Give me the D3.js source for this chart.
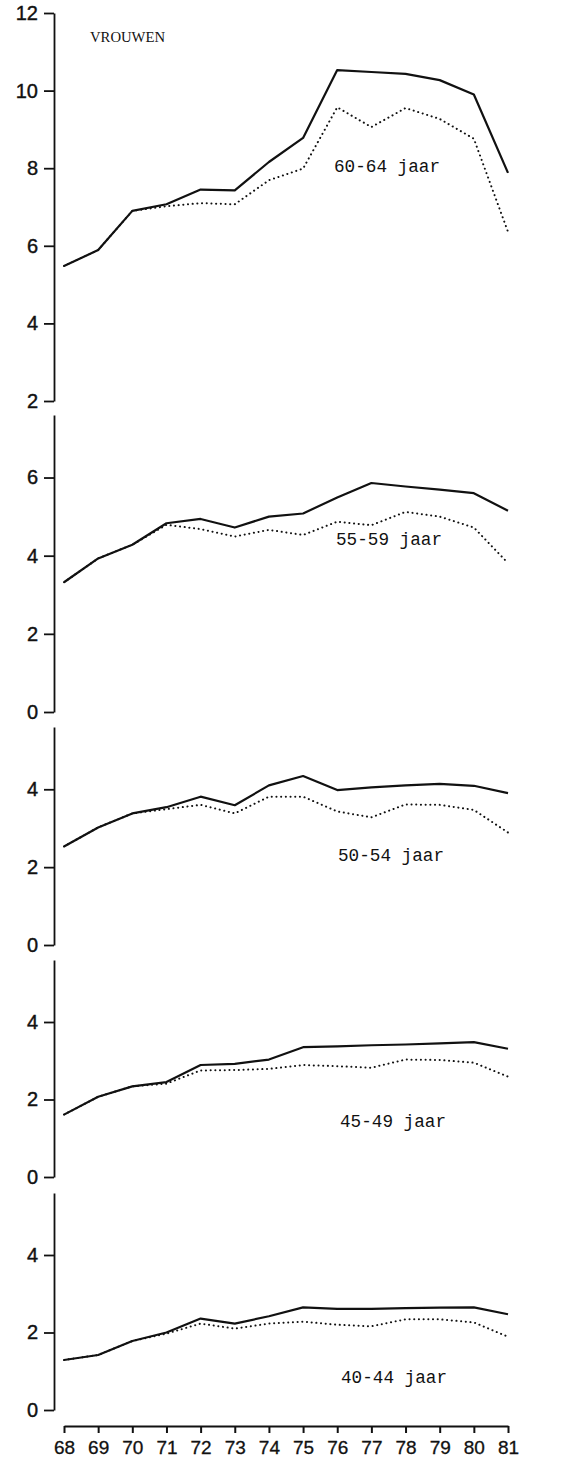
<!DOCTYPE html>
<html>
<head>
<meta charset="utf-8">
<script src="https://cdn.jsdelivr.net/npm/d3@7"></script>
<style>
  body { margin: 0; background: #fff; }
  svg { display: block; }
</style>
</head>
<body>
<svg id="chart"></svg>
<script>
const years = [68, 69, 70, 71, 72, 73, 74, 75, 76, 77, 78, 79, 80, 81];

// solid = upper curve, dotted = lower curve, per age group
const solid6064  = [5.48, 5.89, 6.90, 7.07, 7.45, 7.43, 8.16, 8.78, 10.53, 10.48, 10.43, 10.27, 9.90, 7.88];
const dotted6064 = [5.48, 5.89, 6.90, 7.02, 7.10, 7.07, 7.69, 7.99, 9.57, 9.06, 9.55, 9.27, 8.76, 6.36];
const solid5559  = [3.32, 3.93, 4.28, 4.83, 4.94, 4.72, 5.00, 5.08, 5.49, 5.86, 5.77, 5.69, 5.60, 5.15];
const dotted5559 = [3.32, 3.93, 4.28, 4.79, 4.68, 4.49, 4.66, 4.53, 4.87, 4.78, 5.12, 5.00, 4.72, 3.81];
const solid5054  = [2.53, 3.02, 3.38, 3.54, 3.81, 3.59, 4.10, 4.34, 3.98, 4.05, 4.10, 4.14, 4.09, 3.90];
const dotted5054 = [2.53, 3.02, 3.38, 3.49, 3.60, 3.38, 3.81, 3.81, 3.43, 3.28, 3.61, 3.60, 3.47, 2.89];
const solid4549  = [1.61, 2.07, 2.34, 2.45, 2.89, 2.92, 3.03, 3.35, 3.37, 3.40, 3.42, 3.45, 3.48, 3.31];
const dotted4549 = [1.61, 2.07, 2.34, 2.41, 2.75, 2.76, 2.79, 2.89, 2.86, 2.82, 3.03, 3.02, 2.95, 2.59];
const solid4044  = [1.29, 1.42, 1.78, 2.00, 2.36, 2.23, 2.42, 2.65, 2.61, 2.61, 2.63, 2.64, 2.65, 2.47];
const dotted4044 = [1.29, 1.42, 1.78, 1.97, 2.23, 2.10, 2.23, 2.28, 2.20, 2.16, 2.34, 2.34, 2.26, 1.89];

const groupLabels = ["60-64 jaar", "55-59 jaar", "50-54 jaar", "45-49 jaar", "40-44 jaar"];
const yTicks = [[2, 4, 6, 8, 10, 12], [0, 2, 4, 6], [0, 2, 4], [0, 2, 4], [0, 2, 4]];
const yDomains = [[2, 12], [0, 7.6], [0, 5.6], [0, 5.6], [0, 5.6]];

const width = 585, height = 1467;
const svg = d3.select("#chart").attr("width", width).attr("height", height);

const axisX = 54;
const x = d3.scaleLinear().domain([68, 81]).range([64, 508]);

// vertical pixel extent of each panel (bottom, top)
const panelRanges = [[401, 13], [712, 415], [945, 727], [1177, 960], [1410, 1193]];
const labelPos = [[334, 172], [336, 545], [338, 861], [340, 1127], [341, 1383]];

const panels = [
  { solid: solid6064, dotted: dotted6064 },
  { solid: solid5559, dotted: dotted5559 },
  { solid: solid5054, dotted: dotted5054 },
  { solid: solid4549, dotted: dotted4549 },
  { solid: solid4044, dotted: dotted4044 }
];

panels.forEach((p, i) => {
  const y = d3.scaleLinear().domain(yDomains[i]).range(panelRanges[i]);

  const ax = svg.append("g")
      .attr("transform", `translate(${axisX},0)`)
      .call(d3.axisLeft(y).tickValues(yTicks[i]).tickFormat(d3.format("d"))
        .tickSize(10).tickSizeOuter(0).tickPadding(6));
  ax.selectAll("path, line").attr("stroke", "#111").attr("stroke-width", 1.8);
  ax.selectAll("text")
      .attr("fill", "#111")
      .attr("stroke", "#111")
      .attr("stroke-width", 0.4)
      .style("font-family", "'Liberation Sans', Arial, sans-serif")
      .style("font-size", "20px");

  const line = d3.line().x((d, j) => x(years[j])).y(d => y(d));

  svg.append("path")
      .datum(p.dotted)
      .attr("d", line)
      .attr("fill", "none")
      .attr("stroke", "#111")
      .attr("stroke-width", 2)
      .attr("stroke-linecap", "round")
      .attr("stroke-dasharray", "0.1 4.6");

  svg.append("path")
      .datum(p.solid)
      .attr("d", line)
      .attr("fill", "none")
      .attr("stroke", "#111")
      .attr("stroke-width", 2.2)
      .attr("stroke-linejoin", "round");

  svg.append("text")
      .attr("x", labelPos[i][0])
      .attr("y", labelPos[i][1])
      .attr("textLength", 106)
      .attr("lengthAdjust", "spacingAndGlyphs")
      .style("font-family", "'Liberation Mono', 'DejaVu Sans Mono', monospace")
      .style("font-size", "18.5px")
      .attr("fill", "#111")
      .text(groupLabels[i]);
});

svg.append("text")
    .attr("x", 90)
    .attr("y", 42)
    .attr("textLength", 75)
    .attr("lengthAdjust", "spacingAndGlyphs")
    .style("font-family", "'Liberation Serif', 'Times New Roman', serif")
    .style("font-size", "15px")
    .attr("fill", "#111")
    .text("VROUWEN");

// shared year axis at the bottom
const xAx = svg.append("g")
    .attr("transform", "translate(0,1426)")
    .call(d3.axisBottom(x).tickValues(years).tickFormat(d3.format("d"))
      .tickSize(7).tickSizeOuter(0).tickPadding(8));
xAx.selectAll("path, line").attr("stroke", "#111").attr("stroke-width", 2);
xAx.selectAll("text")
    .attr("fill", "#111")
    .attr("stroke", "#111")
    .attr("stroke-width", 0.3)
    .style("font-family", "'Liberation Sans', Arial, sans-serif")
    .style("font-size", "19px");
</script>
</body>
</html>
